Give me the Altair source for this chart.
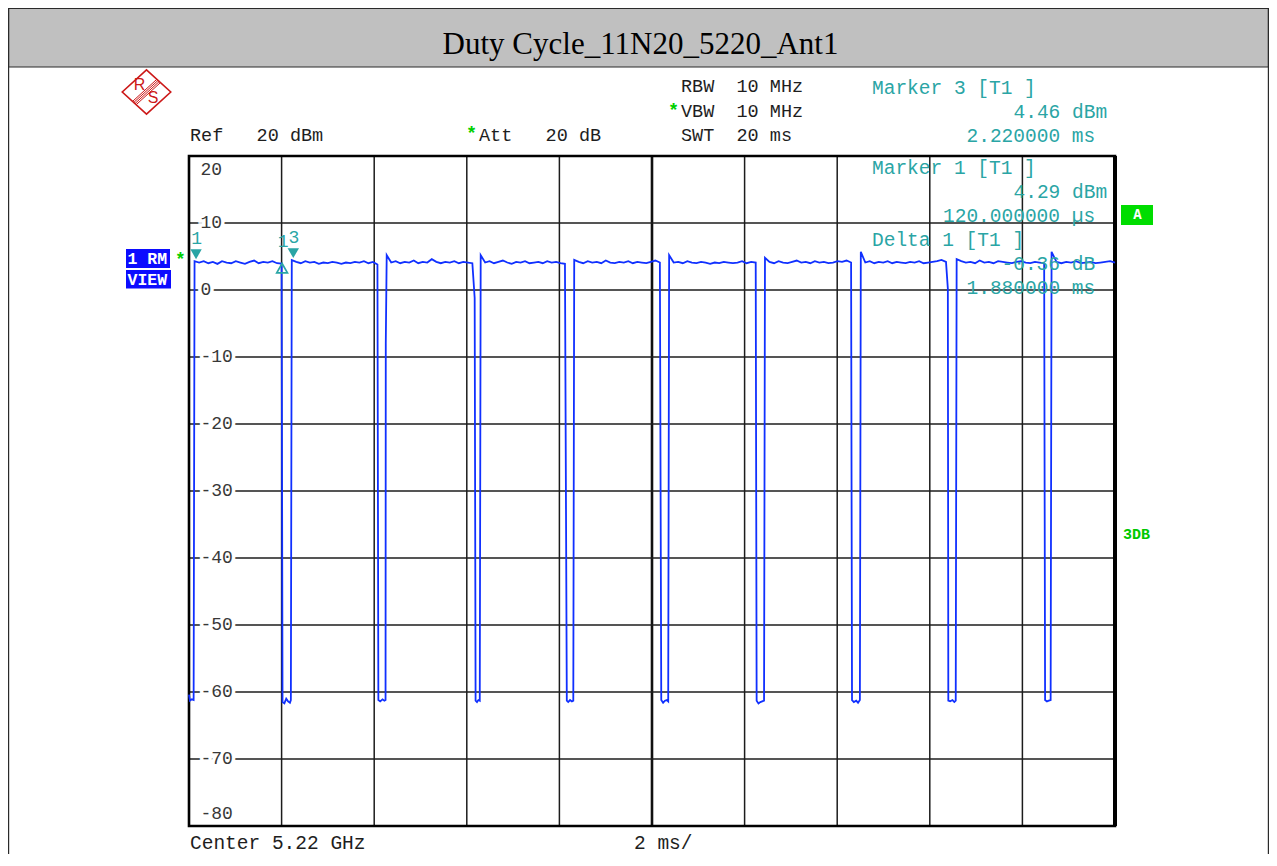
import altair as alt
import pandas as pd

# ---------------- values ----------------
# sweep 0..20 ms (2 ms/div), reference level 20 dBm, 10 dB/div
x_domain_ms = [0, 20]
y_domain_dbm = [-80, 20]

# start / end time of every transmit burst (ms)
burst_start_ms = [0.12, 2.22, 4.27, 6.30, 8.32, 10.37, 12.44, 14.51, 16.58, 18.63]
burst_end_ms = [2.00, 4.07, 6.12, 8.12, 10.17, 12.24, 14.30, 16.35, 18.47, 20.00]

# levels along the top of every burst (dBm), first value = edge overshoot
top0 = [4.29, 4.1, 4.3, 4.0, 4.2, 3.9, 4.3, 4.1, 4.0, 4.3, 4.1, 3.9, 4.2, 4.4, 4.0, 4.2, 4.1, 4.3, 4.0, 3.93]
top1 = [4.46, 4.2, 4.0, 4.3, 4.1, 4.2, 3.9, 4.1, 4.0, 4.2, 4.1, 3.9, 4.1, 4.0, 4.2, 4.1, 4.3, 4.0, 4.2, 3.8]
top2 = [5.2, 4.1, 4.3, 4.0, 4.2, 4.1, 4.4, 4.0, 4.2, 4.1, 4.6, 4.2, 4.0, 4.2, 4.1, 4.3, 4.0, 4.2, 4.1, 4.0]
top3 = [5.2, 4.1, 4.3, 4.0, 4.2, 4.4, 4.1, 3.9, 4.2, 4.1, 4.3, 4.0, 4.1, 4.2, 4.0, 4.3, 4.1, 4.2, 4.0, 3.9]
top4 = [4.5, 4.2, 4.0, 4.3, 4.1, 4.2, 4.0, 4.4, 4.1, 4.0, 4.2, 4.1, 4.3, 4.0, 4.2, 4.1, 4.0, 4.2, 4.4, 4.1]
top5 = [5.2, 4.1, 4.2, 4.0, 4.3, 4.1, 4.0, 4.2, 4.1, 3.9, 4.1, 4.0, 4.2, 4.1, 4.0, 4.1, 4.3, 4.0, 4.2, 4.1]
top6 = [4.8, 4.2, 4.0, 4.3, 4.1, 4.0, 4.2, 4.4, 4.1, 4.2, 4.0, 4.3, 4.1, 4.2, 4.0, 4.1, 4.3, 4.2, 4.4, 4.1]
top7 = [5.7, 4.1, 4.3, 4.0, 4.2, 4.1, 4.3, 4.0, 4.2, 4.1, 4.0, 4.2, 4.1, 4.3, 4.0, 4.1, 4.2, 4.3, 4.5, 4.2]
top8 = [4.6, 4.3, 4.1, 4.2, 4.0, 4.4, 4.1, 4.2, 4.0, 4.3, 4.2, 4.1, 4.0, 4.2, 4.3, 4.1, 4.0, 4.2, 4.1, 4.0]
top9 = [5.7, 4.2, 4.0, 4.2, 4.1, 4.3, 4.0, 4.1, 4.2, 4.0, 4.1, 4.2, 4.3, 4.1]

# points inside each off-gap (before burst k), incl. edge steps
gap0_ms = [0.00, 0.02, 0.06, 0.10]
gap0_dbm = [-60.4, -61.3, -61.1, -61.2]
gap1_ms = [2.02, 2.06, 2.10, 2.14, 2.18, 2.20]
gap1_dbm = [-61.5, -61.7, -61.0, -61.4, -61.6, -61.2]
gap2_ms = [4.09, 4.13, 4.18, 4.22, 4.245, 4.25]
gap2_dbm = [-61.2, -61.4, -61.1, -61.3, -61.2, -8.0]
gap3_ms = [6.17, 6.19, 6.22, 6.25, 6.28]
gap3_dbm = [-1.2, -61.3, -61.5, -61.2, -61.3]
gap4_ms = [8.16, 8.19, 8.23, 8.27, 8.30]
gap4_dbm = [-61.3, -61.5, -61.2, -61.4, -61.3]
gap5_ms = [10.20, 10.24, 10.28, 10.32, 10.35]
gap5_dbm = [-61.2, -61.6, -61.3, -61.2, -61.4]
gap6_ms = [12.26, 12.30, 12.34, 12.38, 12.42]
gap6_dbm = [-61.3, -61.7, -61.5, -61.4, -61.3]
gap7_ms = [14.32, 14.36, 14.41, 14.45, 14.49]
gap7_dbm = [-61.2, -61.5, -61.3, -61.6, -61.2]
gap8_ms = [16.39, 16.40, 16.44, 16.49, 16.53, 16.56]
gap8_dbm = [0.2, -61.3, -61.4, -61.2, -61.5, -61.3]
gap9_ms = [18.49, 18.53, 18.57, 18.61]
gap9_dbm = [-61.2, -61.4, -61.3, -61.2]

# markers
marker_ms = [0.12, 2.22]
marker_dbm = [4.29, 4.46]
marker_lab = ["1", "3"]
delta_ms = [2.00]
delta_dbm = [3.93]
delta_lab = ["1"]

# grid and level labels
vgrid_ms = [2, 4, 6, 8, 12, 14, 16, 18]
center_ms = [10]
hgrid_dbm = [10, 0, -10, -20, -30, -40, -50, -60, -70]
tick_dbm = [20, 10, 0, -10, -20, -30, -40, -50, -60, -70, -80]
tick_lab = ["20", "10", "0", "-10", "-20", "-30", "-40", "-50", "-60", "-70", "-80"]

# ---------------- build the trace table ----------------
tops = [top0, top1, top2, top3, top4, top5, top6, top7, top8, top9]
gaps_ms = [gap0_ms, gap1_ms, gap2_ms, gap3_ms, gap4_ms, gap5_ms, gap6_ms, gap7_ms, gap8_ms, gap9_ms]
gaps_dbm = [gap0_dbm, gap1_dbm, gap2_dbm, gap3_dbm, gap4_dbm, gap5_dbm, gap6_dbm, gap7_dbm, gap8_dbm, gap9_dbm]
t_all, v_all = [], []
for k in range(10):
    t_all += gaps_ms[k]
    v_all += gaps_dbm[k]
    n = len(tops[k])
    a, b = burst_start_ms[k], burst_end_ms[k]
    t_all += [a + (b - a) * j / (n - 1) for j in range(n)]   # sweep sample grid
    v_all += tops[k]
trace_df = pd.DataFrame({"ms": t_all, "dbm": v_all, "i": range(len(t_all))})

# ---------------- layout / styles ----------------
OX, OY = 189, 156          # page position of plot area's top-left corner
W, H = 926, 670
MONO = "Liberation Mono"
SERIF = "Liberation Serif"
DARK = "#1e1e1e"
TEAL = "#2aa5a5"
GREEN = "#00d000"
BOXBLUE = "#0c0cff"
TRACE = "#1030ff"
GRID = "#1c1c1c"

XS = alt.Scale(domain=x_domain_ms, nice=False, zero=False)
YS = alt.Scale(domain=y_domain_dbm, nice=False, zero=False)


def X():
    return alt.X("ms:Q", scale=XS, axis=None)


def Y():
    return alt.Y("dbm:Q", scale=YS, axis=None)


one = pd.DataFrame({"k": [0]})


def text_at(s, x, y, size, color, weight="normal", align="left", font=MONO, baseline="alphabetic"):
    if font == MONO:
        s = s.replace(" ", "\u00a0")
    return alt.Chart(one).mark_text(
        text=s, align=align, baseline=baseline, font=font, fontSize=size,
        fontWeight=weight, color=color
    ).encode(x=alt.value(x - OX), y=alt.value(y - OY))


def rect_at(x1, y1, x2, y2, fill, stroke=None, sw=1.0):
    kw = {"fill": fill}
    if stroke is not None:
        kw.update(stroke=stroke, strokeWidth=sw)
    else:
        kw.update(strokeWidth=0)
    return alt.Chart(one).mark_rect(**kw).encode(
        x=alt.value(x1 - OX), x2=alt.value(x2 - OX),
        y=alt.value(y1 - OY), y2=alt.value(y2 - OY))


def vline_at(x, y1, y2, color, sw):
    return alt.Chart(one).mark_rule(color=color, strokeWidth=sw).encode(
        x=alt.value(x - OX), y=alt.value(y1 - OY), y2=alt.value(y2 - OY))


layers = []

# outer frame + title bar
layers.append(rect_at(8.5, 8.5, 1268.5, 67, "#c0c0c0", stroke="#2a2a2a", sw=1.2))
layers.append(vline_at(8.6, 8, 854, "#2a2a2a", 1.2))
layers.append(vline_at(1268.4, 8, 854, "#2a2a2a", 1.2))
layers.append(text_at("Duty Cycle_11N20_5220_Ant1", 640.5, 54, 31, "#000000", align="center", font=SERIF))

# grid
layers.append(alt.Chart(pd.DataFrame({"ms": vgrid_ms})).mark_rule(color=GRID, strokeWidth=1.5).encode(x=X()))
layers.append(alt.Chart(pd.DataFrame({"ms": center_ms})).mark_rule(color="#111111", strokeWidth=2.6).encode(x=X()))
layers.append(alt.Chart(pd.DataFrame({"dbm": hgrid_dbm})).mark_rule(color=GRID, strokeWidth=1.5).encode(y=Y()))

# level labels (with white halo cutting the grid line)
ticks_df = pd.DataFrame({"dbm": tick_dbm, "lab": tick_lab})
mid = alt.Chart(ticks_df).transform_filter("datum.dbm < 20 && datum.dbm > -80")
layers.append(mid.mark_text(align="left", baseline="middle", font=MONO, fontSize=18, color="white",
                            stroke="white", strokeWidth=7).encode(x=alt.value(11.5), y=Y(), text="lab:N"))
layers.append(mid.mark_text(align="left", baseline="middle", font=MONO, fontSize=18, color="#383838")
              .encode(x=alt.value(11.5), y=Y(), text="lab:N"))
layers.append(alt.Chart(ticks_df).transform_filter("datum.dbm == 20")
              .mark_text(align="left", baseline="middle", font=MONO, fontSize=18, color="#383838", dy=13.5)
              .encode(x=alt.value(11.5), y=Y(), text="lab:N"))
layers.append(alt.Chart(ticks_df).transform_filter("datum.dbm == -80")
              .mark_text(align="left", baseline="middle", font=MONO, fontSize=18, color="#383838", dy=-12)
              .encode(x=alt.value(11.5), y=Y(), text="lab:N"))

# plot border
layers.append(alt.Chart(one).mark_rect(fillOpacity=0, stroke="#000000", strokeWidth=2.6).encode(
    x=alt.value(0), x2=alt.value(W), y=alt.value(0), y2=alt.value(H)))
layers.append(vline_at(OX + W, OY, OY + H, "#000000", 4))

# trace
layers.append(alt.Chart(trace_df).mark_line(color=TRACE, strokeWidth=1.8, interpolate="linear")
              .encode(x=X(), y=Y(), order=alt.Order("i:Q")))

# markers
mk_df = pd.DataFrame({"ms": marker_ms, "dbm": marker_dbm, "lab": marker_lab})
layers.append(alt.Chart(mk_df).mark_point(shape="triangle-down", filled=True, size=130, color=TEAL,
                                          opacity=1, yOffset=-7, xOffset=1.5).encode(x=X(), y=Y()))
layers.append(alt.Chart(mk_df).mark_text(font=MONO, fontSize=18, color=TEAL, dy=-22, dx=2,
                                         baseline="middle").encode(x=X(), y=Y(), text="lab:N"))
dl_df = pd.DataFrame({"ms": delta_ms, "dbm": delta_dbm, "lab": delta_lab})
layers.append(alt.Chart(dl_df).mark_point(shape="triangle-up", filled=False, size=115, color=TEAL,
                                          strokeWidth=1.7, opacity=1, yOffset=4.5, xOffset=0.5).encode(x=X(), y=Y()))
layers.append(alt.Chart(dl_df).mark_text(font=MONO, fontSize=18, color=TEAL, dy=-22, dx=1.5,
                                         baseline="middle").encode(x=X(), y=Y(), text="lab:N"))

# header texts
layers.append(text_at("Ref   20 dBm", 190, 141, 18.5, DARK))
layers.append(text_at("*", 466, 139, 18.5, GREEN, weight="bold"))
layers.append(text_at("Att   20 dB", 479, 141, 18.5, DARK))
layers.append(text_at("RBW  10 MHz", 681, 92, 18.5, DARK))
layers.append(text_at("*", 668, 116, 18.5, GREEN, weight="bold"))
layers.append(text_at("VBW  10 MHz", 681, 117, 18.5, DARK))
layers.append(text_at("SWT  20 ms", 681, 141, 18.5, DARK))

# marker read-outs
for s, x, y in [("Marker 3 [T1 ]", 872, 93.5), ("4.46 dBm", 1013.5, 117.5), ("2.220000 ms", 966.5, 141.5),
                ("Marker 1 [T1 ]", 872, 173.5), ("4.29 dBm", 1013.5, 197.5), ("120.000000 µs", 943, 221.5),
                ("Delta 1 [T1 ]", 872, 245.5), ("-0.36 dB", 1001.5, 269.5), ("1.880000 ms", 966.5, 293.5)]:
    layers.append(text_at(s, x, y, 19.5, TEAL))

# trace badges
layers.append(rect_at(126, 249, 170, 268, BOXBLUE))
layers.append(text_at("1 RM", 127.5, 264, 16.5, "white", weight="bold"))
layers.append(rect_at(126, 270, 171, 288.5, BOXBLUE))
layers.append(text_at("VIEW", 127.5, 284.5, 16.5, "white", weight="bold"))
layers.append(text_at("*", 175, 265, 18, GREEN, weight="bold"))
layers.append(rect_at(1121, 205, 1153, 225, "#00dd00"))
layers.append(text_at("A", 1137.5, 219, 14, "white", weight="bold", align="center"))
layers.append(text_at("3DB", 1123, 538.5, 15, "#00c800", weight="bold"))

# footer
layers.append(text_at("Center 5.22 GHz", 190, 848.5, 19.5, DARK))
layers.append(text_at("2 ms/", 634, 848.5, 19.5, DARK))

# R&S logo
R, HH = 1.0, 0.91
diamond = f"M0,{-HH}L{R},0L0,{HH}L{-R},0Z"
stripes = ""
for d in [-0.075, -0.025, 0.025, 0.075]:
    stripes += f"M{0.5 + d:.3f},{-0.455 + 0.91 * d:.3f}L{-0.5 + d:.3f},{0.455 + 0.91 * d:.3f}"
LOGO = "#cc1818"
for path, sw in [(diamond, 1.6), (stripes, 1.0)]:
    layers.append(alt.Chart(one).mark_point(shape=path, size=2350, filled=False, color=LOGO, opacity=1,
                                            strokeWidth=sw).encode(x=alt.value(146.5 - OX), y=alt.value(92 - OY)))
layers.append(text_at("R", 139.5, 84.5, 16, LOGO, align="center", font="Liberation Sans", baseline="middle"))
layers.append(text_at("S", 153, 97.5, 16, LOGO, align="center", font="Liberation Sans", baseline="middle"))

chart = alt.layer(*layers).properties(
    width=W, height=H,
    padding={"left": OX - 8, "top": OY - 8, "right": 1261 - (OX - 8) - W, "bottom": 846 - (OY - 8) - H},
    autosize=alt.AutoSizeParams(type="none"),
    background="white",
).configure_view(stroke=None)

chart.save("out.html", embed_options={"renderer": "svg", "actions": False})
